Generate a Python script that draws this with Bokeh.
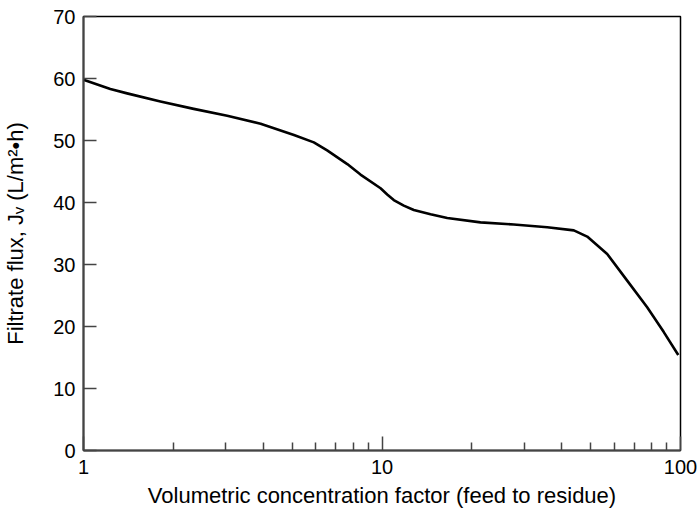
from bokeh.plotting import figure
from bokeh.models import Range1d, FixedTicker, BasicTickFormatter
from bokeh.embed import file_html
from bokeh.resources import INLINE

# Data
vcf = [1.00, 1.23, 1.40, 1.81, 2.34, 3.03, 3.92, 5.07, 5.91, 6.55, 7.65, 8.47, 9.89,
       10.41, 10.95, 11.83, 12.78, 14.54, 16.54, 21.38, 27.64, 35.77, 43.92, 48.69,
       56.8, 66.28, 77.33, 87.9, 98.3]
flux = [59.8, 58.3, 57.6, 56.3, 55.1, 54.0, 52.7, 50.9, 49.7, 48.4, 46.2, 44.5, 42.3,
        41.3, 40.4, 39.5, 38.8, 38.1, 37.5, 36.8, 36.45, 36.0, 35.5, 34.5,
        31.7, 27.4, 23.1, 19.1, 15.4]

x_major = [1, 10, 100]
x_minor = [2, 3, 4, 5, 6, 7, 8, 9, 20, 30, 40, 50, 60, 70, 80, 90]
y_ticks = [0, 10, 20, 30, 40, 50, 60, 70]

x_title = "Volumetric concentration factor (feed to residue)"
y_title = "Filtrate flux, J\u1d65 (L/m\u00b2\u2022h)"

FONT = "Liberation Sans"

p = figure(x_axis_type="log",
           x_range=Range1d(1, 100), y_range=Range1d(0, 70),
           width=700, height=510,
           min_border_left=83, min_border_right=20,
           min_border_top=16, min_border_bottom=60,
           output_backend="svg", toolbar_location=None)

p.grid.visible = False
p.outline_line_color = "black"
p.outline_line_width = 1.5
p.background_fill_color = "white"
p.border_fill_color = "white"

p.line(vcf, flux, line_color="black", line_width=2.6, line_join="round")

xa = p.xaxis[0]
xa.ticker = FixedTicker(ticks=x_major, minor_ticks=x_minor)
xa.formatter = BasicTickFormatter()
xa.major_tick_in = 14
xa.major_tick_out = 0
xa.minor_tick_in = 8
xa.minor_tick_out = 0
xa.major_label_standoff = 9
xa.axis_label = x_title
xa.axis_label_standoff = 6

ya = p.yaxis[0]
ya.ticker = FixedTicker(ticks=y_ticks, minor_ticks=[])
ya.major_tick_in = 13
ya.major_tick_out = 0
ya.minor_tick_in = 0
ya.minor_tick_out = 0
ya.major_label_standoff = 8
ya.axis_label = y_title
ya.axis_label_standoff = 22

for ax in (xa, ya):
    ax.axis_line_color = "#444444"
    ax.axis_line_width = 2
    ax.major_tick_line_color = "#444444"
    ax.major_tick_line_width = 1.5
    ax.minor_tick_line_color = "#444444"
    ax.minor_tick_line_width = 1.5
    ax.major_label_text_font = FONT
    ax.major_label_text_font_size = "20px"
    ax.major_label_text_color = "black"
    ax.axis_label_text_font = FONT
    ax.axis_label_text_font_size = "22px"
    ax.axis_label_text_font_style = "normal"
    ax.axis_label_text_color = "black"

open("out.html", "w").write(file_html(p, INLINE))
